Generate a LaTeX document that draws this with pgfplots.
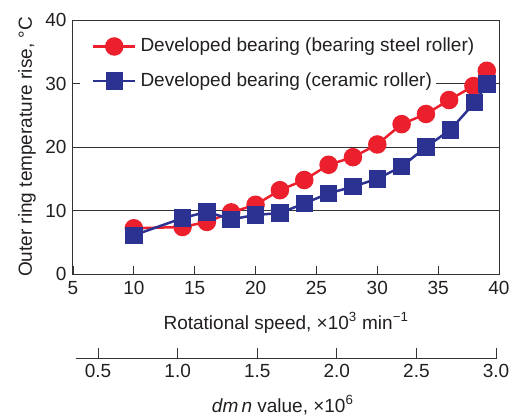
\documentclass[border=0pt]{standalone}
\usepackage{pgfplots}
\pgfplotsset{compat=1.18}
\usepackage{fontspec}
\setmainfont{Liberation Sans}
\definecolor{myred}{RGB}{236,32,44}
\definecolor{myblue}{RGB}{44,50,145}
\definecolor{txt}{RGB}{35,31,32}
\newcommand{\fs}{\fontsize{19bp}{22bp}\selectfont}
\begin{document}
\fs
\begin{tikzpicture}
\begin{axis}[
  at={(0,0)}, anchor=south west,
  scale only axis, width=426bp, height=254bp,
  xmin=5, xmax=40, ymin=0, ymax=40,
  xtick={5,10,...,40}, ytick={0,10,...,40},
  tick pos=left, tick align=inside,
  major tick length=8bp,
  ymajorgrids, major grid style={black!80, line width=0.7bp},
  axis line style={black!80, line width=1bp},
  every tick/.style={black!80, line width=0.8bp},
  /pgf/number format/assume math mode=true,
  tick label style={font=\fs, text=txt},
  xticklabel style={yshift=-1bp},
  label style={font=\fs, text=txt},
  xlabel={Rotational speed, \texttimes10\textsuperscript{3} min\textsuperscript{−1}},
  xlabel style={at={(axis description cs:0.5,-0.193)}, anchor=center},
  ylabel={Outer ring temperature rise, \textdegree C},
  ylabel style={at={(axis description cs:-0.108,0.5)}, anchor=center, rotate=0},
  legend style={at={(axis description cs:0.016,0.945)}, anchor=north west,
    draw=none, fill=none, font=\fs, text=txt,
    row sep=10bp, inner xsep=0bp, inner ysep=0bp,
    nodes={fill=white, inner xsep=4bp, inner ysep=4bp}},
  legend cell align=left,
  legend image code/.code={
    \fill[white] (-12bp,-10bp) rectangle (42bp,10bp);
    \draw[mark repeat=2,mark phase=2,#1] plot coordinates {(0bp,0bp) (21bp,0bp) (42bp,0bp)};
  },
]
\addplot[myred, line width=2.5bp, mark=*, mark size=8bp, mark options={solid, fill=myred, draw=myred}]
coordinates {(10,7.2)(14,7.4)(16,8.2)(18,9.7)(20,10.9)(22,13.2)(24,14.8)(26,17.2)(28,18.4)(30,20.4)(32,23.6)(34,25.2)(35.9,27.4)(37.9,29.6)(39,32.0)};
\addlegendentry{Developed bearing (bearing steel roller)}
\addplot[myblue, line width=2.5bp, mark=square*, mark size=7.5bp, mark options={solid, fill=myblue, draw=myblue}]
coordinates {(10,6.1)(14,8.8)(16,9.8)(18,8.6)(20,9.3)(22,9.6)(24,11.1)(26,12.7)(28,13.75)(30,15.0)(32,16.9)(34,20.0)(36,22.7)(38,27.0)(39,29.9)};
\addlegendentry{Developed bearing (ceramic roller)}
\end{axis}
\begin{axis}[
  at={(3bp,-84bp)}, anchor=south west,
  scale only axis, width=421bp, height=10bp,
  xmin=0.3615, xmax=3.006, ymin=0, ymax=1,
  axis x line=bottom, axis y line=none,
  axis line style={-, black!80, line width=1bp},
  xtick={0.5,1.0,1.5,2.0,2.5,3.0},
  xticklabels={0.5,1.0,1.5,2.0,2.5,3.0},
  xtick align=inside, major tick length=10bp,
  every tick/.style={black!80, line width=0.8bp},
  tick label style={font=\fs, text=txt},
  label style={font=\fs, text=txt},
  xlabel={\textit{dm\,n} value, \texttimes10\textsuperscript{6}},
  xlabel style={at={(axis description cs:0.491,-4.7)}, anchor=center},
]
\end{axis}
\pgfresetboundingbox
\path[use as bounding box] (-73bp,-141bp) rectangle (437bp,274bp);
\end{tikzpicture}
\end{document}
